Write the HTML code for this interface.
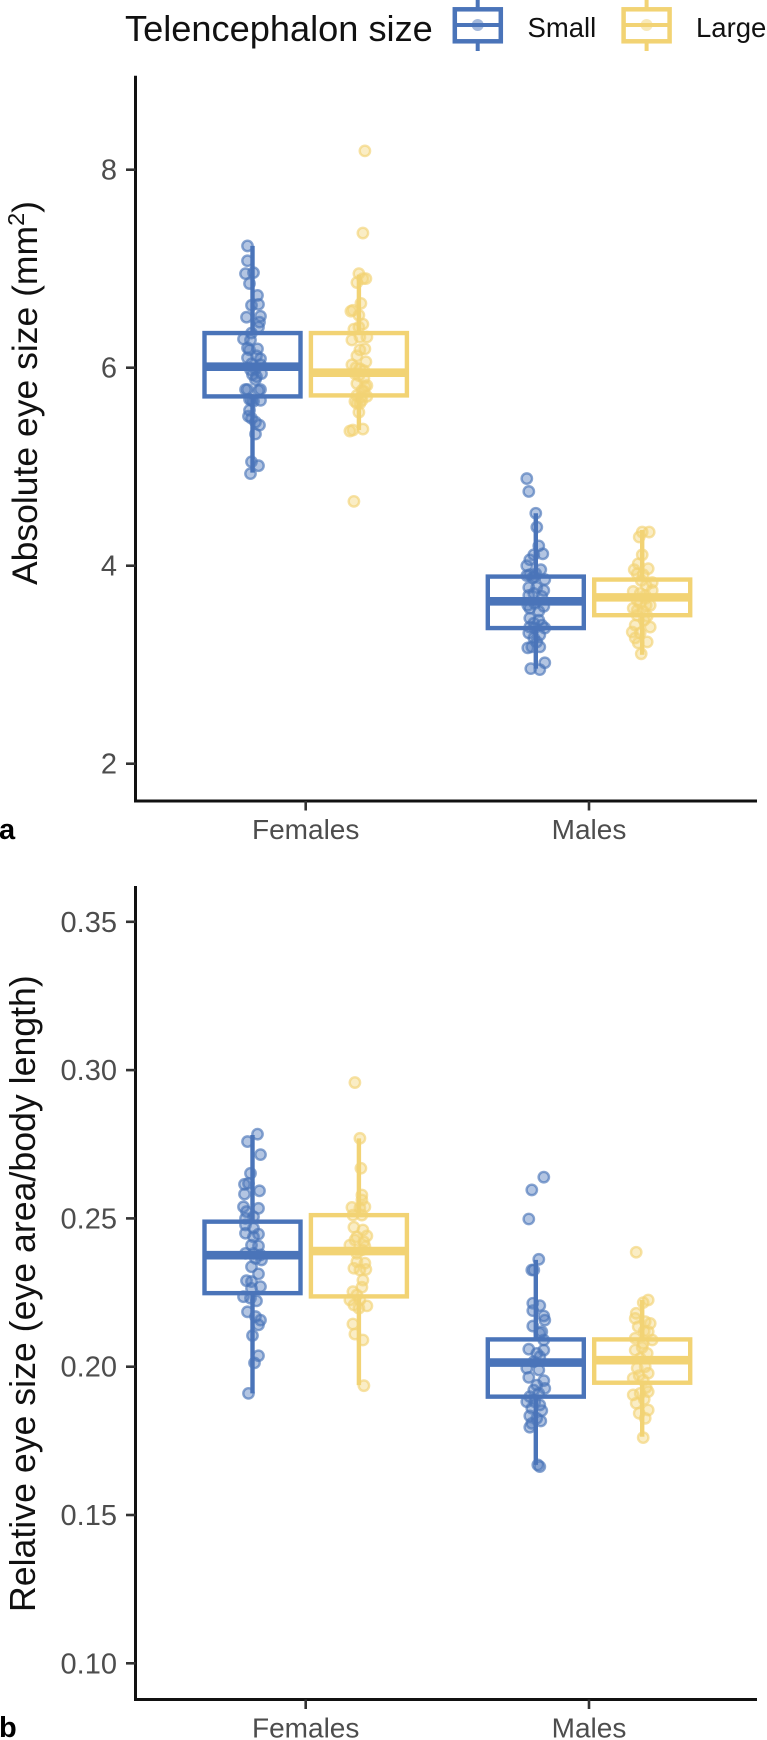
<!DOCTYPE html>
<html lang="en">
<head>
<meta charset="utf-8">
<title>Eye size by telencephalon size</title>
<style>
html,body{margin:0;padding:0;background:#fff;width:767px;height:1740px;overflow:hidden}
svg{display:block;font-family:"Liberation Sans",Arial,sans-serif}
</style>
</head>
<body>
<svg id="chart" xmlns="http://www.w3.org/2000/svg" width="767" height="1740" viewBox="0 0 767 1740">
  <g>
    <text x="125" y="41" font-size="36.2" fill="#111">Telencephalon size</text>
    <g>
      <line x1="477.7" x2="477.7" y1="0" y2="51" stroke="#4a74b9" stroke-width="4"/>
      <rect x="454.8" y="9.3" width="46" height="32" fill="#fff" stroke="#4a74b9" stroke-width="4.5"/>
      <line x1="454" x2="501" y1="25" y2="25" stroke="#4a74b9" stroke-width="4"/>
      <circle cx="477.7" cy="25" r="6" fill="#4a74b9" fill-opacity=".5"/>
      <text x="527.5" y="37" font-size="27.5" fill="#111">Small</text>
    </g>
    <g>
      <line x1="646.6" x2="646.6" y1="0" y2="51" stroke="#f2d374" stroke-width="4"/>
      <rect x="623.6" y="9.3" width="46" height="32" fill="#fff" stroke="#f2d374" stroke-width="4.5"/>
      <line x1="623" x2="670" y1="25" y2="25" stroke="#f2d374" stroke-width="4"/>
      <circle cx="646.6" cy="25" r="6" fill="#f2d374" fill-opacity=".5"/>
      <text x="696" y="37" font-size="27.5" fill="#111">Large</text>
    </g>
  </g>
  <text transform="translate(37,585) rotate(-90)" font-size="35.5" fill="#111">Absolute eye size (mm<tspan font-size="23.5" dy="-13">2</tspan><tspan dy="13">)</tspan></text>
  <text transform="translate(35,1612) rotate(-90)" font-size="35.7" fill="#111">Relative eye size (eye area/body length)</text>
  <text x="-1" y="839" font-size="29" font-weight="bold" fill="#000">a</text>
  <text x="-1" y="1737" font-size="29" font-weight="bold" fill="#000">b</text>
  <g id="panelA"></g>
  <g id="panelB"></g>
</svg>
<script>
const categories = ["Females", "Males"];
const groups = ["small", "large"];
const ticksA = [2, 4, 6, 8];
const ticksB = [0.10, 0.15, 0.20, 0.25, 0.30, 0.35];

/* Five-number summaries: q1, median, q3, whisker low, whisker high */
const boxAFemaleSmall = [5.71, 6.01, 6.35, 4.94, 7.23];
const boxAFemaleLarge = [5.72, 5.95, 6.35, 5.37, 6.94];
const boxAMaleSmall = [3.37, 3.64, 3.89, 2.96, 4.53];
const boxAMaleLarge = [3.50, 3.68, 3.86, 3.10, 4.36];
const boxBFemaleSmall = [0.2248, 0.2376, 0.2489, 0.1910, 0.2781];
const boxBFemaleLarge = [0.2237, 0.2390, 0.2511, 0.1938, 0.2770];
const boxBMaleSmall = [0.1899, 0.2014, 0.2092, 0.1669, 0.2360];
const boxBMaleLarge = [0.1946, 0.2022, 0.2092, 0.1764, 0.2225];

/* Observed values and horizontal jitter (jitter in percent of box width) */
const valuesAFemaleSmall = [7.23,7.08,6.95,6.96,6.85,6.73,6.63,6.64,6.51,6.52,6.46,6.41,6.35,6.29,6.28,6.20,6.19,6.18,6.12,6.10,6.09,6.04,6.03,5.99,5.98,5.94,5.93,5.91,5.88,5.78,5.78,5.77,5.78,5.68,5.66,5.67,5.67,5.57,5.51,5.49,5.45,5.42,5.33,5.05,5.01,4.93];
const jitterAFemaleSmall = [-5,-5,-7,1,-3,5,-1,6,-6,8,7,6,-1,-9,-2,-5,5,-3,4,-5,8,-1,8,3,-2,9,0,4,3,-7,-5,6,8,-3,1,8,-1,-3,-4,-1,3,7,3,-1,6,-2];
const valuesAFemaleLarge = [8.19,7.36,6.95,6.90,6.90,6.86,6.65,6.58,6.57,6.53,6.44,6.39,6.41,6.28,6.31,6.31,6.19,6.18,6.12,6.06,6.03,5.99,5.94,5.89,5.82,5.84,5.77,5.72,5.71,5.64,5.64,5.55,5.37,5.36,5.38,4.65,5.81,5.67,5.66,5.76,5.70,5.92,5.97,6.00];
const jitterAFemaleLarge = [6,4,0,4,7,-2,2,-6,-8,0,4,-5,0,-7,8,1,6,1,-2,7,-7,1,-4,5,8,-2,3,-2,8,1,-2,0,-6,-9,4,-5,6,3,-4,5,2,0,5,-3];
const valuesAMaleSmall = [4.88,4.75,4.53,4.39,4.20,4.12,4.11,4.06,4.00,3.96,3.91,3.90,3.89,3.86,3.78,3.75,3.78,3.72,3.70,3.69,3.62,3.59,3.57,3.54,3.47,3.45,3.42,3.40,3.38,3.37,3.37,3.32,3.30,3.27,3.23,3.17,3.18,3.18,3.02,2.96,2.95,3.92,3.88,3.60];
const jitterAMaleSmall = [-9,-7,0,1,3,7,-2,-6,-9,5,-6,-9,-1,9,-7,8,1,-2,-7,6,-1,8,-6,3,-6,3,-2,6,-6,-1,9,-7,4,-2,1,-8,-4,4,9,-5,4,0,-3,-8];
const valuesAMaleLarge = [4.34,4.34,4.29,4.11,4.02,3.97,3.96,3.92,3.91,3.83,3.74,3.72,3.75,3.67,3.65,3.60,3.57,3.54,3.50,3.49,3.38,3.40,3.33,3.32,3.27,3.23,3.22,3.11,3.85,3.70,3.62,3.45,3.60,3.55,3.80];
const jitterAMaleLarge = [0,7,-3,0,-4,6,-8,-5,1,10,-9,-2,10,3,-5,8,-9,1,-5,5,8,-7,-10,-2,-7,5,-4,-1,-1,3,-2,2,4,-5,4];
const valuesBFemaleSmall = [0.2784,0.2759,0.2715,0.2652,0.2615,0.2618,0.2582,0.2593,0.2539,0.2534,0.2523,0.2500,0.2506,0.2478,0.2467,0.2450,0.2447,0.2438,0.2410,0.2407,0.2382,0.2382,0.2377,0.2360,0.2365,0.2337,0.2313,0.2290,0.2287,0.2270,0.2264,0.2236,0.2231,0.2222,0.2185,0.2169,0.2157,0.2141,0.2105,0.2037,0.2013,0.1910];
const jitterBFemaleSmall = [5,-5,8,-2,-8,-4,-8,7,-9,6,-6,-7,1,-7,1,-7,6,1,-1,6,-7,1,8,9,3,-1,6,-6,-1,8,-1,-9,-2,4,-5,3,8,6,0,6,2,-4];
const valuesBFemaleLarge = [0.2958,0.2770,0.2669,0.2579,0.2562,0.2537,0.2539,0.2535,0.2511,0.2511,0.2470,0.2461,0.2441,0.2438,0.2410,0.2421,0.2427,0.2405,0.2382,0.2394,0.2354,0.2332,0.2349,0.2328,0.2326,0.2292,0.2268,0.2253,0.2242,0.2225,0.2225,0.2205,0.2208,0.2197,0.2144,0.2110,0.2090,0.1936];
const jitterBFemaleLarge = [-4,1,2,3,3,-7,6,1,3,-6,-5,4,8,-2,-9,5,-4,6,-2,3,-2,-5,6,7,1,4,3,-6,-2,-9,1,8,-5,0,-6,-4,4,5];
const valuesBMaleSmall = [0.2639,0.2596,0.2498,0.2362,0.2326,0.2326,0.2214,0.2206,0.2189,0.2171,0.2157,0.2137,0.2113,0.2118,0.2090,0.2059,0.2056,0.2045,0.2034,0.2017,0.1995,0.1989,0.1964,0.1953,0.1927,0.1938,0.1921,0.1910,0.1899,0.1882,0.1882,0.1871,0.1860,0.1852,0.1834,0.1826,0.1817,0.1809,0.1796,0.1669,0.1663];
const jitterBMaleSmall = [8,-4,-7,3,-4,-2,-3,4,-3,8,9,-3,4,6,8,-7,8,1,4,-2,-9,3,-7,8,9,1,-2,3,-6,-9,-1,4,-4,6,-6,1,5,-4,-6,2,4];
const valuesBMaleLarge = [0.2386,0.2225,0.2216,0.2180,0.2163,0.2146,0.2152,0.2135,0.2118,0.2096,0.2090,0.2079,0.2056,0.2045,0.2028,0.1995,0.1978,0.1961,0.1955,0.1916,0.1905,0.1910,0.1877,0.1854,0.1826,0.1843,0.1761,0.2000,0.1970,0.1930,0.2120,0.2065,0.1890];
const jitterBMaleLarge = [-6,6,1,-6,-7,8,3,-4,6,-7,10,1,-7,5,-2,-5,6,-9,1,6,-9,-2,-6,6,3,-3,1,3,-3,4,2,0,2];

const SVG_NS = "http://www.w3.org/2000/svg";
const colors = { small: "#4a74b9", large: "#f2d374" };
const AXIS_X = 135.5;
const AXIS_RIGHT = 757;
const BOX_WIDTH = 96;
const DODGE = 53.2;

function xCategory(i) { return 305.7 + i * 283.3; }
function xGroup(i, g) { return xCategory(i) + (g === 0 ? -DODGE : DODGE); }
function yA(v) { return 763.7 - (v - 2) * 99; }
function yB(v) { return 1515 - (v - 0.15) * 2966; }

function make(parent, tag, attrs) {
  const el = document.createElementNS(SVG_NS, tag);
  Object.keys(attrs).forEach(function (k) { el.setAttribute(k, attrs[k]); });
  parent.appendChild(el);
  return el;
}

function drawAxes(root, yScale, ticks, decimals, top, bottom, key) {
  const yLine = make(root, "line", { x1: AXIS_X, x2: AXIS_X, y1: top, y2: bottom + 1.5, stroke: "#111", "stroke-width": 3 });
  
  
  const xLine = make(root, "line", { x1: AXIS_X - 1.5, x2: AXIS_RIGHT, y1: bottom, y2: bottom, stroke: "#111", "stroke-width": 3 });
  
  
  ticks.forEach(function (t) {
    const y = yScale(t);
    const mark = make(root, "line", { x1: 126, x2: AXIS_X, y1: y, y2: y, stroke: "#333", "stroke-width": 2.6 });
    
    
    const label = make(root, "text", { x: 117, y: y + 10, "text-anchor": "end", "font-size": 29, fill: "#4d4d4d" });
    
    
    label.textContent = t.toFixed(decimals);
  });
  categories.forEach(function (c, i) {
    const x = xCategory(i);
    const mark = make(root, "line", { x1: x, x2: x, y1: bottom, y2: bottom + 9.5, stroke: "#333", "stroke-width": 2.6 });
    
    
    const label = make(root, "text", { x: x, y: bottom + 38, "text-anchor": "middle", "font-size": 28, fill: "#4d4d4d" });
    
    
    label.textContent = c;
  });
}

function drawGroup(root, yScale, catIndex, groupIndex, values, jitter, box) {
  const cx = xGroup(catIndex, groupIndex);
  const color = colors[groups[groupIndex]];
  const tag = categories[catIndex].toLowerCase() + '-' + groups[groupIndex];
  values.forEach(function (v, k) {
    const pt = make(root, "circle", {
      cx: cx + jitter[k] * (BOX_WIDTH + 4) / 100,
      cy: yScale(v),
      r: 5.2,
      fill: color,
      "fill-opacity": 0.42,
      stroke: color,
      "stroke-opacity": 0.65,
      "stroke-width": 2.4
    });
    
    
  });
  const whiskerHigh = make(root, "line", { x1: cx, x2: cx, y1: yScale(box[4]), y2: yScale(box[2]), stroke: color, "stroke-width": 4.4 });
  
  
  const whiskerLow = make(root, "line", { x1: cx, x2: cx, y1: yScale(box[0]), y2: yScale(box[3]), stroke: color, "stroke-width": 4.4 });
  
  
  const rect = make(root, "rect", {
    x: cx - BOX_WIDTH / 2,
    y: yScale(box[2]),
    width: BOX_WIDTH,
    height: yScale(box[0]) - yScale(box[2]),
    fill: "none",
    stroke: color,
    "stroke-width": 4.4
  });
  
  
  const median = make(root, "line", {
    x1: cx - BOX_WIDTH / 2,
    x2: cx + BOX_WIDTH / 2,
    y1: yScale(box[1]),
    y2: yScale(box[1]),
    stroke: color,
    "stroke-width": 8.6
  });
  
  
}

const panelA = document.getElementById("panelA");
const panelB = document.getElementById("panelB");

drawAxes(panelA, yA, ticksA, 0, 75.7, 801, 'a');
drawGroup(panelA, yA, 0, 0, valuesAFemaleSmall, jitterAFemaleSmall, boxAFemaleSmall);
drawGroup(panelA, yA, 0, 1, valuesAFemaleLarge, jitterAFemaleLarge, boxAFemaleLarge);
drawGroup(panelA, yA, 1, 0, valuesAMaleSmall, jitterAMaleSmall, boxAMaleSmall);
drawGroup(panelA, yA, 1, 1, valuesAMaleLarge, jitterAMaleLarge, boxAMaleLarge);

drawAxes(panelB, yB, ticksB, 2, 886, 1699.5, 'b');
drawGroup(panelB, yB, 0, 0, valuesBFemaleSmall, jitterBFemaleSmall, boxBFemaleSmall);
drawGroup(panelB, yB, 0, 1, valuesBFemaleLarge, jitterBFemaleLarge, boxBFemaleLarge);
drawGroup(panelB, yB, 1, 0, valuesBMaleSmall, jitterBMaleSmall, boxBMaleSmall);
drawGroup(panelB, yB, 1, 1, valuesBMaleLarge, jitterBMaleLarge, boxBMaleLarge);
</script>
</body>
</html>
